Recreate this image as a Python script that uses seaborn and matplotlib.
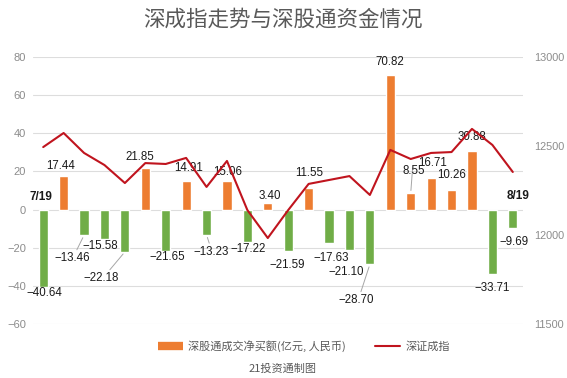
import matplotlib
matplotlib.use("Agg")
import matplotlib.pyplot as plt
from matplotlib.lines import Line2D
import seaborn as sns
import pandas as pd
import numpy as np

# ---- data ----
dates = ["7/19", "7/20", "7/21", "7/22", "7/25", "7/26", "7/27", "7/28", "7/29",
         "8/1", "8/2", "8/3", "8/4", "8/5", "8/8", "8/9", "8/10", "8/11", "8/12",
         "8/15", "8/16", "8/17", "8/18", "8/19"]
net_buy = [-40.64, 17.44, -13.46, -15.58, -22.18, 21.85, -21.65, 14.91, -13.23,
           15.06, -17.22, 3.40, -21.59, 11.55, -17.63, -21.10, -28.70, 70.82,
           8.55, 16.71, 10.26, 30.88, -33.71, -9.69]
szci = [12494, 12573, 12461, 12393, 12292, 12404, 12399, 12433, 12270,
        12416, 12140, 11983, 12140, 12287, 12309, 12331, 12225, 12478,
        12427, 12461, 12466, 12596, 12506, 12354]
left_ticks = [-60, -40, -20, 0, 20, 40, 60, 80]
right_ticks = [11500, 12000, 12500, 13000]
title = "深成指走势与深股通资金情况"
bar_label = "深股通成交净买额(亿元, 人民币)"
line_label = "深证成指"
footer = "21投资通制图"

# label offsets (pixels) relative to bar end, and leader-line flags
offsets = [(1, -6), (-3, 10), (-12, -23), (-4, -7), (-24, -26), (-5, 11), (2, -6),
           (2, 13), (5, -17), (1, 9), (1, -7), (2, 7), (-1, -14), (1, 15), (2, -15),
           (-3, -22), (-14, -36), (0, 13), (3, 22), (1, 15), (0, 15), (0, 14),
           (0, -14), (1, -14)]
leaders = {2, 4, 8, 16, 18}

ORANGE = "#ED7D31"
GREEN = "#70AD47"
RED = "#C0141E"
GRAY = "#595959"
TICK = "#8C8C8C"

sns.set_theme(style="white")
plt.rcParams["font.family"] = ["Liberation Sans", "Noto Sans CJK SC", "DejaVu Sans"]
plt.rcParams["axes.unicode_minus"] = True

fig = plt.figure(figsize=(5.67, 3.78), dpi=100)
ax = fig.add_axes([33 / 567, 1 - 324 / 378, 490 / 567, 267 / 378])

df = pd.DataFrame({"date": dates, "val": net_buy,
                   "sign": ["pos" if v >= 0 else "neg" for v in net_buy]})
sns.barplot(data=df, x="date", y="val", hue="sign", palette={"pos": ORANGE, "neg": GREEN},
            dodge=False, width=0.45, ax=ax, legend=False, saturation=1)

ax.set_xlim(-0.5, len(dates) - 0.5)
ax.set_ylim(-60, 80)
ax.set_yticks(left_ticks)
ax.set_xticks([])
ax.set_xlabel("")
ax.set_ylabel("")
for s in ax.spines.values():
    s.set_visible(False)
ax.grid(axis="y", color="#DDDDDD", lw=0.8)
ax.set_axisbelow(True)
ax.tick_params(axis="y", length=0, pad=5, labelsize=8, labelcolor=TICK)

# value labels
for i, v in enumerate(net_buy):
    dx, dy = offsets[i]
    ax.annotate(f"{v:.2f}".replace("-", "−"), xy=(i, v), xytext=(dx, dy),
                textcoords="offset pixels", ha="center", va="center",
                fontsize=8.3, color="#1a1a1a", zorder=6)
    if i in leaders:
        sgn = 1 if v >= 0 else -1
        ax.annotate("", xy=(i, v), xytext=(dx * 0.7, dy - sgn * (-6 if sgn > 0 else 6)),
                    textcoords="offset pixels",
                    arrowprops=dict(arrowstyle="-", color="#A6A6A6", lw=0.7), zorder=5)

ax.annotate(dates[0], xy=(0, 0), xytext=(-2, 13), textcoords="offset pixels",
            ha="center", va="center", fontsize=8.5, fontweight="bold", color="#1a1a1a")
ax.annotate(dates[-1], xy=(len(dates) - 1, 0), xytext=(5, 14), textcoords="offset pixels",
            ha="center", va="center", fontsize=8.5, fontweight="bold", color="#1a1a1a")

# line on secondary axis
ax2 = ax.twinx()
sns.lineplot(x=list(range(len(dates))), y=szci, ax=ax2, color=RED, lw=1.5, zorder=4)
ax2.set_ylim(11500, 13000)
ax2.set_yticks(right_ticks)
ax2.set_xlim(-0.5, len(dates) - 0.5)
ax2.set_ylabel("")
for s in ax2.spines.values():
    s.set_visible(False)
ax2.tick_params(axis="y", length=0, pad=8, labelsize=7.8, labelcolor=TICK)
ax2.grid(False)

# title, legend, footer
fig.text(283 / 567, 1 - 20 / 378, title, ha="center", va="center", fontsize=15.5,
         color=GRAY, family=["Noto Sans CJK SC", "DejaVu Sans"])

handles = [Line2D([], [], color=ORANGE, lw=6, solid_capstyle="butt"),
           Line2D([], [], color=RED, lw=1.5)]
fig.legend(handles, [bar_label, line_label], loc="center", bbox_to_anchor=(304 / 567, 1 - 346 / 378),
           ncol=2, frameon=False, handlelength=2.2, columnspacing=2.6, handletextpad=0.5,
           prop={"family": ["Noto Sans CJK SC", "DejaVu Sans"], "size": 8}, labelcolor=GRAY)

fig.text(283 / 567, 1 - 369 / 378, footer, ha="center", va="center", fontsize=8,
         color=GRAY, family=["Noto Sans CJK SC", "DejaVu Sans"])

fig.savefig("out.png", dpi=100)
